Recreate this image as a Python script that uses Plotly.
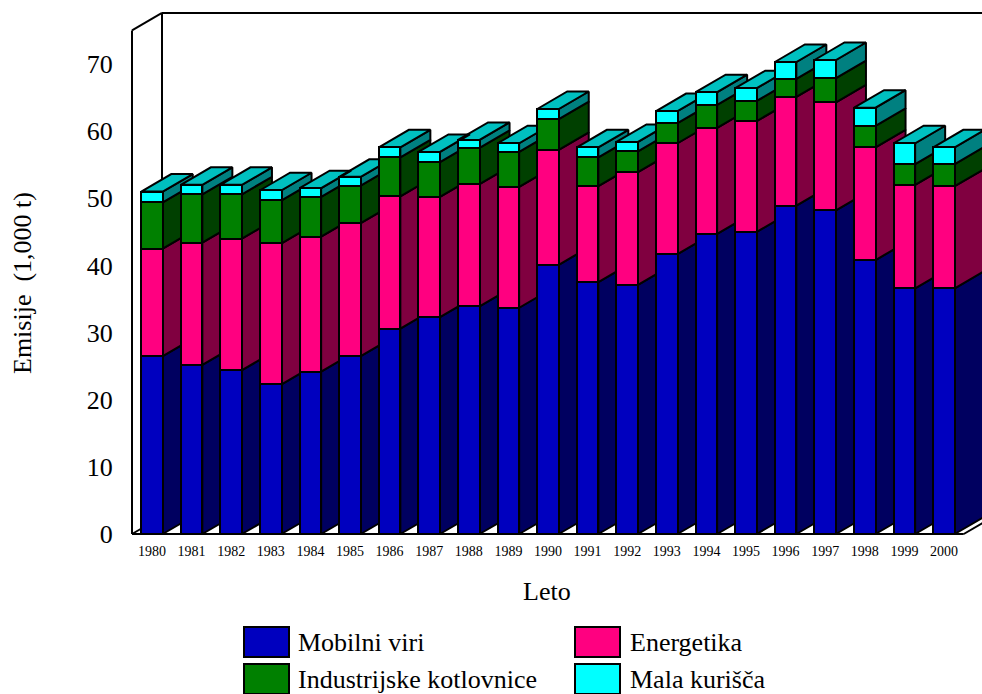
import plotly.graph_objects as go

years = list(range(1980, 2001))
mobilni = [26.5,25.2,24.4,22.3,24.2,26.5,30.6,32.3,33.9,33.7,40.1,37.5,37.1,41.7,44.7,45.0,48.9,48.2,40.8,36.6,36.6]
energetika = [16.0,18.2,19.6,21.0,20.1,19.8,19.7,17.9,18.2,18.0,17.1,14.3,16.8,16.5,15.8,16.5,16.2,16.1,16.8,15.4,15.2]
industrijske = [6.9,7.2,6.6,6.4,5.9,5.6,5.8,5.2,5.4,5.2,4.6,4.3,3.1,3.0,3.4,3.0,2.7,3.6,3.2,3.1,3.3]
mala = [1.6,1.4,1.4,1.5,1.3,1.3,1.5,1.5,1.2,1.3,1.5,1.5,1.4,1.8,1.9,1.9,2.5,2.7,2.7,3.1,2.5]

names = ["Mobilni viri", "Energetika", "Industrijske kotlovnice", "Mala kurišča"]
series = [mobilni, energetika, industrijske, mala]
front = ["#0000BF", "#FF0080", "#008000", "#00FFFF"]
side = ["#000060", "#800040", "#004000", "#008080"]
top_colour = "#00C0C0"

W, H = 982, 694
L, R, T, B = 120, 982, 5, 541
PX_X, PX_Y = 39.6, 6.714
x0_px = 152
xr = [1980 - (x0_px - L) / PX_X, 1980 + (R - x0_px) / PX_X]
yr = [-(B - 534) / PX_Y, (534 - T) / PX_Y]
DX, DY = 30 / PX_X, 17.5 / PX_Y
BAR = 21.5 / PX_X
FONT = "Liberation Serif"
LW = 2

fig = go.Figure()

# 3D side and top faces, computed from the stacked data
base = [0.0] * len(years)
for vals, col, name in zip(series, side, names):
    xs, ys = [], []
    for yr_i, b, v in zip(years, base, vals):
        xe = yr_i + BAR / 2
        xs += [xe, xe + DX, xe + DX, xe, xe, None]
        ys += [b, b + DY, b + v + DY, b + v, b, None]
    fig.add_trace(go.Scatter(x=xs, y=ys, mode="lines", fill="toself", fillcolor=col,
                             line=dict(color="black", width=LW), showlegend=False,
                             hoverinfo="skip", xaxis="x", yaxis="y"))
    base = [b + v for b, v in zip(base, vals)]

xs, ys = [], []
for yr_i, t in zip(years, base):
    a, e = yr_i - BAR / 2, yr_i + BAR / 2
    xs += [a, a + DX, e + DX, e, a, None]
    ys += [t, t + DY, t + DY, t, t, None]
fig.add_trace(go.Scatter(x=xs, y=ys, mode="lines", fill="toself", fillcolor=top_colour,
                         line=dict(color="black", width=LW), showlegend=False,
                         hoverinfo="skip", xaxis="x", yaxis="y"))

# Front faces
for vals, col, name in zip(series, front, names):
    fig.add_trace(go.Bar(x=years, y=vals, name=name, width=BAR, xaxis="x2", yaxis="y2",
                         marker=dict(color=col, line=dict(color="black", width=LW)),
                         showlegend=False))

# Wall and floor frame
left = xr[0] + (x0_px - 20 - L) / PX_X
ymax_wall = 75.0
line = dict(color="black", width=LW)
shapes = []
def seg(x0, y0, x1, y1):
    shapes.append(dict(type="line", xref="x", yref="y", x0=x0, y0=y0, x1=x1, y1=y1,
                       line=line, layer="below"))
seg(left, 0, left, ymax_wall)
seg(left, ymax_wall, left + DX, ymax_wall + DY)
seg(left + DX, DY, left + DX, ymax_wall + DY)
seg(left + DX, ymax_wall + DY, xr[1], ymax_wall + DY)
seg(left, 0, left + DX, DY)
floor_end = 2000 + BAR / 2 + 9 / PX_X
seg(left, 0, floor_end, 0)
seg(floor_end, 0, floor_end + DX, DY)

# Legend drawn at the reference's size
annotations = []
def px(x): return (x - L) / (R - L)
def py(y): return (B - y) / (B - T)
leg_x = [244, 575, 244, 575]
leg_y = [627, 627, 664, 664]
txt_x = [296, 628, 296, 628]
for name, col, lx, ly, tx in zip(names, front, leg_x, leg_y, txt_x):
    shapes.append(dict(type="rect", xref="paper", yref="paper",
                       x0=px(lx), x1=px(lx + 45), y0=py(ly), y1=py(ly + 30),
                       fillcolor=col, line=dict(color="black", width=LW)))
    annotations.append(dict(xref="paper", yref="paper", x=px(tx), y=py(ly + 15),
                            text=name, showarrow=False, xanchor="left", yanchor="middle",
                            font=dict(family=FONT, size=26, color="black")))

annotations.append(dict(xref="paper", yref="paper", x=px(547), y=py(591), text="Leto",
                        xanchor="center", yanchor="middle", showarrow=False,
                        font=dict(family=FONT, size=26, color="black")))
annotations.append(dict(xref="paper", yref="paper", x=px(22), y=py(283),
                        text="Emisije  (1,000 t)", textangle=-90, showarrow=False,
                        xanchor="center", yanchor="middle",
                        font=dict(family=FONT, size=26, color="black")))

xax = dict(range=xr, tickmode="array", tickvals=years, ticktext=[str(y) for y in years],
           showgrid=False, zeroline=False, showline=False, ticks="",
           tickfont=dict(family=FONT, size=14, color="black"))
yax = dict(range=yr, tickmode="array", tickvals=list(range(0, 80, 10)),
           showgrid=False, zeroline=False, showline=False, ticks="outside", ticklen=1,
           tickcolor="rgba(0,0,0,0)", tickfont=dict(family=FONT, size=26, color="black"))

fig.update_layout(
    width=W, height=H, margin=dict(l=L, r=W - R, t=T, b=H - B),
    paper_bgcolor="white", plot_bgcolor="white", barmode="stack",
    showlegend=False, shapes=shapes, annotations=annotations,
    xaxis=xax, yaxis=yax,
    xaxis2=dict(range=xr, overlaying="x", visible=False),
    yaxis2=dict(range=yr, overlaying="y", visible=False),
)

fig.write_html("out.html", config=dict(displayModeBar=False),
               post_script="document.body.style.margin='0';document.body.style.overflow='hidden';")
